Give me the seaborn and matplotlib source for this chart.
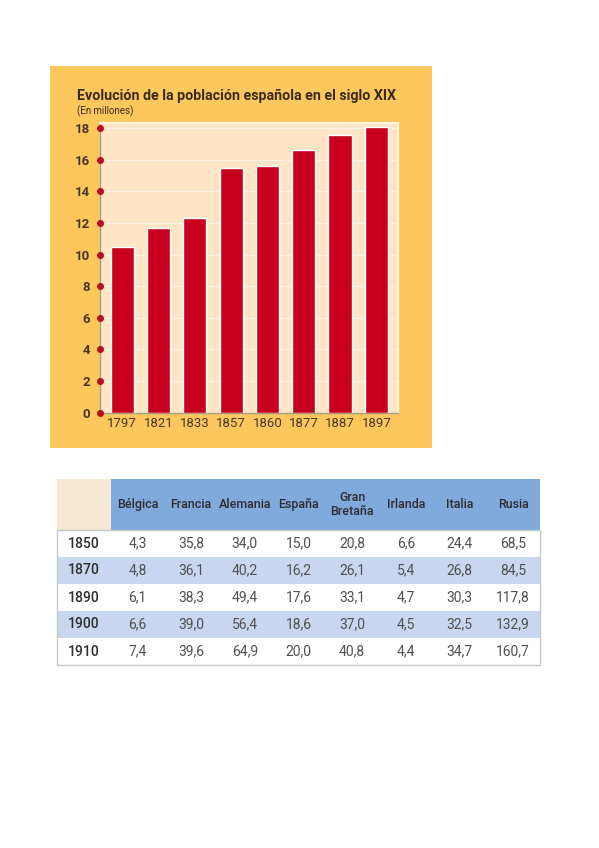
import numpy as np
import pandas as pd
import matplotlib.pyplot as plt
import matplotlib.transforms as mtransforms
from matplotlib.patches import Rectangle
import seaborn as sns

# --- data ---
years = ["1797", "1821", "1833", "1857", "1860", "1877", "1887", "1897"]
poblacion = [10.5, 11.7, 12.3, 15.5, 15.6, 16.6, 17.6, 18.1]
y_ticks = [0, 2, 4, 6, 8, 10, 12, 14, 16, 18]

paises = ["Bélgica", "Francia", "Alemania", "España", "Gran\nBretaña",
          "Irlanda", "Italia", "Rusia"]
anios_tabla = ["1850", "1870", "1890", "1900", "1910"]
belgica = [4.3, 4.8, 6.1, 6.6, 7.4]
francia = [35.8, 36.1, 38.3, 39.0, 39.6]
alemania = [34.0, 40.2, 49.4, 56.4, 64.9]
espana = [15.0, 16.2, 17.6, 18.6, 20.0]
gran_bretana = [20.8, 26.1, 33.1, 37.0, 40.8]
irlanda = [6.6, 5.4, 4.7, 4.5, 4.4]
italia = [24.4, 26.8, 30.3, 32.5, 34.7]
rusia = [68.5, 84.5, 117.8, 132.9, 160.7]

# --- styles ---
ORANGE = "#fcc85d"
CREAM = "#fde5c6"
RED = "#c8001e"
DOT = "#b3101c"
BROWN = "#4a3422"
BLUE = "#80a9dc"
STRIPE = "#c8d7ef"
BEIGE = "#f4e9d2"
TXT = "#2e2e2e"

W, H = 599, 848
sns.set_theme(style="white")
plt.rcParams["font.family"] = ["Roboto", "DejaVu Sans"]

fig = plt.figure(figsize=(W / 100, H / 100), dpi=100)
fig.patch.set_facecolor("white")


def fx(px):
    return px / W


def fy(py):
    return 1 - py / H


# orange panel behind the chart
fig.add_artist(Rectangle((fx(50), fy(448)), (432 - 50) / W, (448 - 66) / H,
                         transform=fig.transFigure, facecolor=ORANGE,
                         edgecolor="none", zorder=0))

fig.text(fx(77), fy(100), "Evolución de la población española en el siglo XIX",
         fontsize=10.3, fontweight="bold", color="#3b2a1c", va="baseline")
fig.text(fx(77), fy(114.5), "(En millones)", fontsize=7, color="#3b2a1c",
         va="baseline")

# --- bar chart ---
ax = fig.add_axes([fx(100), fy(412.5), (397.5 - 100) / W, (412.5 - 123.3) / H])
ax.set_facecolor(CREAM)
df = pd.DataFrame({"anio": years, "poblacion": poblacion})
sns.barplot(data=df, x="anio", y="poblacion", color=RED, saturation=1,
            width=0.64, ax=ax, zorder=3)
ax.set_xlim(-0.61, 7.58)
ax.set_ylim(0, 18.32)
ax.set_yticks(y_ticks)
ax.set_xlabel("")
ax.set_ylabel("")
ax.grid(axis="y", color="#fff1de", linewidth=1, zorder=1)
ax.set_axisbelow(True)

for s in ["left", "bottom"]:
    ax.spines[s].set_color("#a99b7c")
    ax.spines[s].set_linewidth(1)
for s in ["top", "right"]:
    ax.spines[s].set_color("#fff2df")
    ax.spines[s].set_linewidth(1.5)

ax.tick_params(axis="x", length=0, pad=3, labelsize=9.5, labelcolor=BROWN)
ax.tick_params(axis="y", length=0, pad=7, labelsize=9.5, labelcolor=BROWN)
for lab in ax.get_yticklabels():
    lab.set_fontweight("bold")

# red dots on the y axis at every tick
trans = mtransforms.blended_transform_factory(ax.transAxes, ax.transData)
ax.plot(np.zeros(len(y_ticks)), y_ticks, "o", color=DOT, markersize=4,
        transform=trans, clip_on=False, zorder=6)

# --- table ---
cols = [belgica, francia, alemania, espana, gran_bretana, irlanda, italia, rusia]
header_h = 51 / 27
n_rows = len(anios_tabla)
tab = fig.add_axes([fx(57), fy(665), (540 - 57) / W, (665 - 479) / H])
tab.set_xlim(0, 9)
tab.set_ylim(n_rows + header_h, 0)
tab.axis("off")

tab.add_patch(Rectangle((0, 0), 1, header_h, facecolor=BEIGE, edgecolor="none"))
tab.add_patch(Rectangle((1, 0), 8, header_h, facecolor=BLUE, edgecolor="none"))
for j, p in enumerate(paises):
    tab.text(j + 1.5, header_h / 2, p, ha="center", va="center",
             fontsize=9, fontweight="medium", color=TXT, linespacing=1.05)

for i, a in enumerate(anios_tabla):
    y0 = header_h + i
    tab.add_patch(Rectangle((0, y0), 9, 1, facecolor=STRIPE if i % 2 else "white",
                            edgecolor="none"))
    tab.text(0.5, y0 + 0.5, a, ha="center", va="center", fontsize=10,
             fontweight="medium", color=TXT)
    for j, c in enumerate(cols):
        tab.text(j + 1.5, y0 + 0.5, f"{c[i]:.1f}".replace(".", ","),
                 ha="center", va="center", fontsize=10, color="#505050")

tab.add_patch(Rectangle((0, header_h), 9, n_rows, fill=False,
                        edgecolor="#c4c9d0", linewidth=1, clip_on=False))

fig.savefig("out.png", dpi=100)
